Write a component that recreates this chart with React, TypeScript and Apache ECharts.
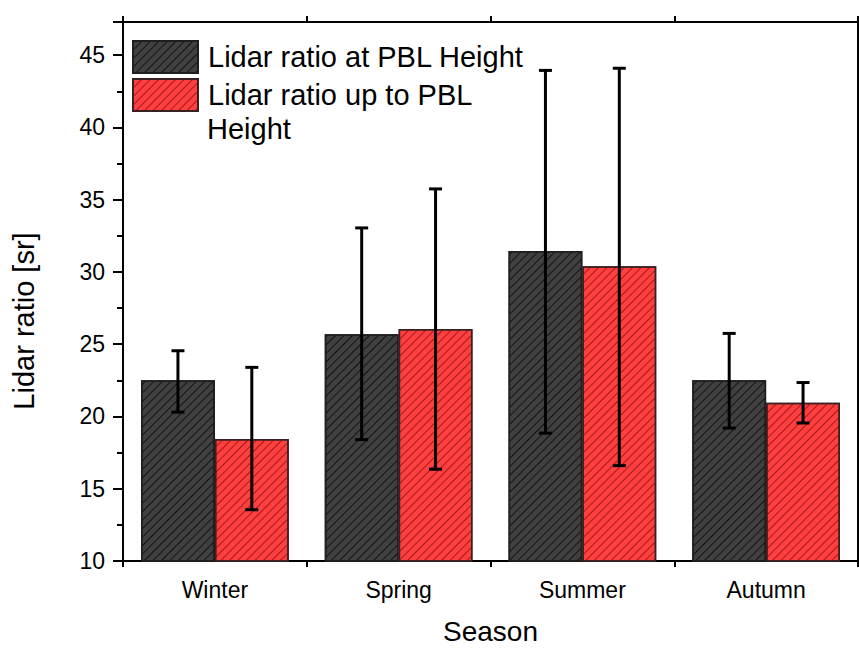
import React, { useEffect, useRef } from "react";
import * as echarts from "echarts";

const categories = ["Winter", "Spring", "Summer", "Autumn"];
const seriesNames = ["Lidar ratio at PBL Height", "Lidar ratio up to PBL Height"];
const atPbl = [22.5, 25.7, 31.45, 22.5];
const atPblLow = [20.3, 18.4, 18.85, 19.2];
const atPblHigh = [24.55, 33.05, 43.95, 25.75];
const upToPbl = [18.45, 26.05, 30.4, 20.95];
const upToPblLow = [13.55, 16.35, 16.6, 19.55];
const upToPblHigh = [23.4, 35.75, 44.1, 22.35];
const yTicks = [10, 15, 20, 25, 30, 35, 40, 45];
const xTitle = "Season";
const yTitle = "Lidar ratio [sr]";

const FONT = 'Arial, "Liberation Sans", sans-serif';
const GAP = 0.196;

function errorSeries(low: number[], high: number[], sign: number, name: string) {
  return {
    type: "custom",
    name,
    xAxisIndex: 0,
    yAxisIndex: 0,
    z: 10,
    silent: true,
    encode: { x: 0, y: [1, 2] },
    data: low.map((l, i) => [i, l, high[i]]),
    renderItem: (params: any, api: any) => {
      const x = api.value(0);
      const pLo = api.coord([x, api.value(1)]);
      const pHi = api.coord([x, api.value(2)]);
      const band = api.size([1, 0])[0];
      const bw = (band * (1 - GAP)) / 2;
      const cx = pLo[0] + (sign * bw) / 2;
      const cap = 6.5;
      const st = { stroke: "#000", lineWidth: 3 };
      return {
        type: "group",
        children: [
          { type: "line", shape: { x1: cx, y1: pLo[1], x2: cx, y2: pHi[1] }, style: st },
          { type: "line", shape: { x1: cx - cap, y1: pLo[1], x2: cx + cap, y2: pLo[1] }, style: st },
          { type: "line", shape: { x1: cx - cap, y1: pHi[1], x2: cx + cap, y2: pHi[1] }, style: st },
        ],
      };
    },
  };
}

export default function App() {
  const ref = useRef<HTMLDivElement>(null);
  useEffect(() => {
    if (!ref.current) return;
    const chart = echarts.init(ref.current, undefined, { renderer: "svg" });
    const yMin = 10;
    const yMax = 47.3;
    const axisLineStyle = { color: "#000", width: 2 };
    const option: any = {
      animation: false,
      backgroundColor: "#fff",
      textStyle: { fontFamily: FONT },
      grid: { left: 123, right: 1, top: 22, bottom: 85, containLabel: false },
      legend: {
        orient: "vertical",
        left: 132,
        top: 40,
        padding: 0,
        icon: "rect",
        itemWidth: 65,
        itemHeight: 32,
        itemGap: 4,
        selectedMode: false,
        textStyle: { fontSize: 29, color: "#000", fontFamily: FONT, padding: [0, 0, 0, 5] },
        data: [{ name: seriesNames[0] }, { name: seriesNames[1] }],
        formatter: (n: string) => (n === seriesNames[1] ? "Lidar ratio up to PBL" : n),
      },
      graphic: [
        {
          type: "text",
          x: 207,
          y: 129,
          style: {
            text: "Height",
            fontSize: 29,
            fontFamily: FONT,
            fill: "#000",
            align: "left",
            verticalAlign: "middle",
          },
        },
        {
          type: "text",
          x: 24,
          y: 321,
          rotation: Math.PI / 2,
          style: {
            text: yTitle,
            fontSize: 29,
            fontFamily: FONT,
            fill: "#000",
            align: "center",
            verticalAlign: "middle",
          },
        },
      ],
      xAxis: [
        {
          type: "category",
          data: categories,
          position: "bottom",
          axisLine: { lineStyle: axisLineStyle },
          axisTick: { alignWithLabel: true, length: 10, lineStyle: { width: 2, color: "#000" }, interval: 0 },
          axisLabel: { fontSize: 23, color: "#000", margin: 17, fontFamily: FONT, interval: 0 },
          name: xTitle,
          nameLocation: "middle",
          nameGap: 56,
          nameTextStyle: { fontSize: 28, color: "#000", fontFamily: FONT },
        },
        {
          type: "category",
          data: categories,
          position: "top",
          axisLine: { lineStyle: axisLineStyle },
          axisTick: { alignWithLabel: true, length: 11, lineStyle: { width: 2, color: "#000" }, interval: 0 },
          axisLabel: { show: false },
        },
        {
          type: "value",
          min: 0,
          max: 4,
          interval: 1,
          position: "bottom",
          axisLine: { show: false },
          axisTick: { show: true, length: 6, lineStyle: { width: 2, color: "#000" } },
          axisLabel: { show: false },
          splitLine: { show: false },
        },
        {
          type: "value",
          min: 0,
          max: 4,
          interval: 1,
          position: "top",
          axisLine: { show: false },
          axisTick: { show: true, length: 6, lineStyle: { width: 2, color: "#000" } },
          axisLabel: { show: false },
          splitLine: { show: false },
        },
      ],
      yAxis: [
        {
          type: "value",
          min: yMin,
          max: yMax,
          interval: 5,
          position: "left",
          axisLine: { show: true, lineStyle: axisLineStyle },
          axisTick: { show: true, length: 10, lineStyle: { width: 2, color: "#000" } },
          axisLabel: {
            fontSize: 23,
            color: "#000",
            margin: 18,
            fontFamily: FONT,
            formatter: (v: number) => (yTicks.indexOf(v) >= 0 ? String(v) : ""),
          },
          splitLine: { show: false },
        },
        {
          type: "value",
          min: yMin,
          max: yMax,
          interval: 2.5,
          position: "left",
          axisLine: { show: false },
          axisTick: { show: true, length: 6, lineStyle: { width: 2, color: "#000" } },
          axisLabel: { show: false },
          splitLine: { show: false },
        },
        {
          type: "value",
          min: yMin,
          max: yMax,
          position: "right",
          axisLine: { show: true, lineStyle: axisLineStyle },
          axisTick: { show: false },
          axisLabel: { show: false },
          splitLine: { show: false },
        },
      ],
      series: [
        {
          type: "bar",
          name: seriesNames[0],
          data: atPbl,
          barGap: "0%",
          barCategoryGap: GAP * 100 + "%",
          itemStyle: {
            color: "#404040",
            borderColor: "#1e1e1e",
            borderWidth: 1.5,
            decal: {
              symbol: "rect",
              symbolSize: 1,
              dashArrayX: [1, 0],
              dashArrayY: [1, 5],
              rotation: -Math.PI / 4,
              color: "#141414",
            },
          },
        },
        {
          type: "bar",
          name: seriesNames[1],
          data: upToPbl,
          barGap: "0%",
          barCategoryGap: GAP * 100 + "%",
          itemStyle: {
            color: "#fd3f3f",
            borderColor: "#3a2020",
            borderWidth: 1.5,
            decal: {
              symbol: "rect",
              symbolSize: 1,
              dashArrayX: [1, 0],
              dashArrayY: [1, 5],
              rotation: -Math.PI / 4,
              color: "#a81818",
            },
          },
        },
        errorSeries(atPblLow, atPblHigh, -1, "err0"),
        errorSeries(upToPblLow, upToPblHigh, 1, "err1"),
      ],
    };
    chart.setOption(option);
    return () => chart.dispose();
  }, []);
  return (
    <div
      ref={ref}
      style={{ position: "fixed", left: 0, top: 0, width: 859, height: 650, background: "#fff" }}
    />
  );
}
